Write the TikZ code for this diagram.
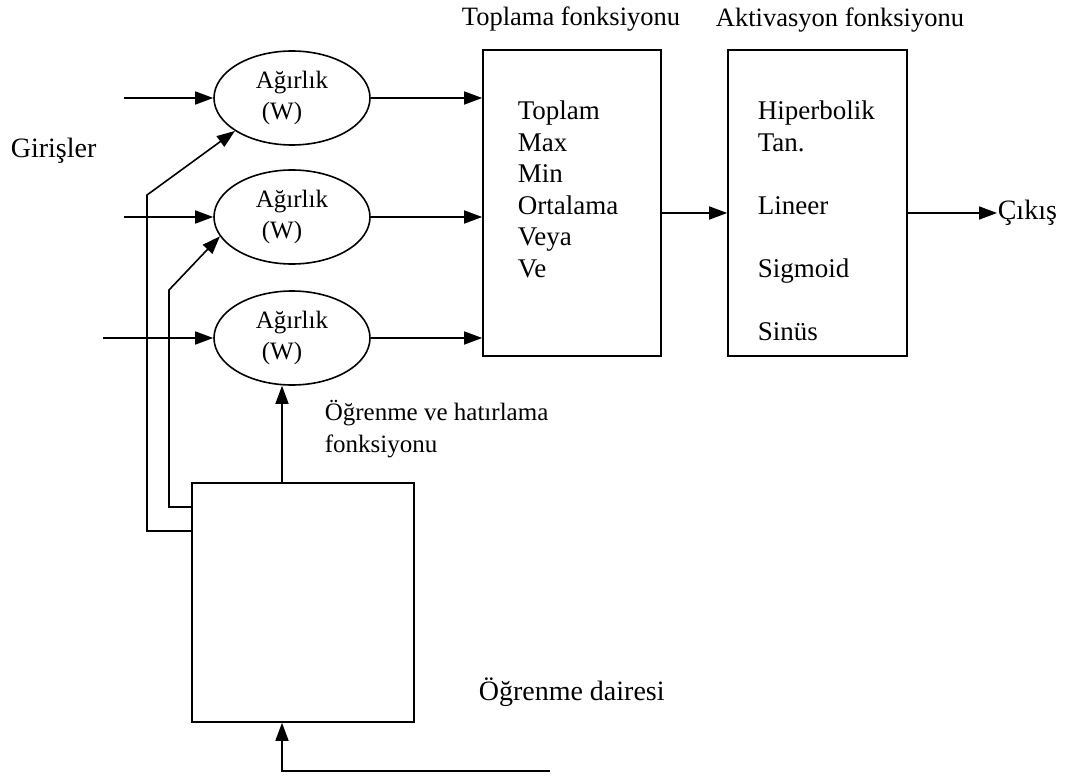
\documentclass[tikz,border=0pt]{standalone}
\usepackage{fontspec}
\setmainfont{Liberation Serif}
\usetikzlibrary{arrows.meta,shapes.geometric,positioning,calc}

\begin{document}
\begin{tikzpicture}[x=1pt, y=-1pt, line width=1.6pt,
  arr/.style={-{Triangle[length=18pt,width=13pt]}},
  weight/.style={draw, ellipse, minimum width=156pt, minimum height=94pt,
    inner sep=0pt, align=left, font=\fontsize{25}{31}\selectfont},
  fnbox/.style={draw, rectangle, minimum height=306pt, inner sep=0pt},
  listtext/.style={anchor=north west, inner sep=0pt, align=left,
    font=\fontsize{27}{31.5}\selectfont},
  title/.style={inner sep=0pt, anchor=base, font=\fontsize{26.5}{31}\selectfont},
  lbl/.style={inner sep=0pt, font=\fontsize{28}{32}\selectfont},
  small/.style={inner sep=0pt, font=\fontsize{25}{32}\selectfont}]
  \useasboundingbox (0,0) rectangle (1065,778);

  % Weights
  \node[weight] (w1) at (292,98)  {Ağırlık\\\hspace*{6pt}(W)};
  \node[weight] (w2) at (292,217) {Ağırlık\\\hspace*{6pt}(W)};
  \node[weight] (w3) at (292,338) {Ağırlık\\\hspace*{6pt}(W)};

  % Summation and activation boxes
  \node[fnbox, minimum width=178pt] (sum) at (572,203) {};
  \node[fnbox, minimum width=179pt] (act) at (817.5,203) {};
  \node[listtext] (sumlist) at (517,100) {Toplam\\Max\\Min\\Ortalama\\Veya\\Ve};
  \node[listtext] (actlist) at (757,100)
    {Hiperbolik\\Tan.\\[31.5pt]Lineer\\[31.5pt]Sigmoid\\[31.5pt]Sinüs};
  \node[title] (sumtitle) at (571,26) {Toplama fonksiyonu};
  \node[title] (acttitle) at (840,27) {Aktivasyon fonksiyonu};

  % Learning box
  \node[draw, minimum width=222pt, minimum height=239pt, inner sep=0pt]
    (learn) at (303,602.5) {};
  \node[small, anchor=north west, align=left] (learnlbl) at (324,399)
    {Öğrenme ve hatırlama\\fonksiyonu};
  \node[lbl, anchor=base west] (circle) at (478,700) {Öğrenme dairesi};

  % Inputs and output
  \node[lbl, anchor=base west] (inputs) at (10,158) {Girişler};
  \node[lbl, anchor=base west] (out) at (997,219) {Çıkış};
  \coordinate (in1) at (124,98);
  \coordinate (in2) at (124,217);
  \coordinate (in3) at (103,338);
  \draw[arr] (in1) -- (w1.west);
  \draw[arr] (in2) -- (w2.west);
  \draw[arr] (in3) -- (w3.west);
  \foreach \w in {w1,w2,w3}
    \draw[arr] (\w.east) -- (\w.east -| sum.west);
  \draw[arr] ([yshift=-10pt]sum.east) -- ([yshift=-10pt]act.west);
  \draw[arr] ([yshift=-10pt]act.east) -- ([yshift=-10pt]act.east -| out.west);

  % Feedback from learning box
  \draw[arr] (learn.west |- 0,531) -- (147,531) -- (147,195) -- (w1.210);
  \draw[arr] (learn.west |- 0,507) -- (169,507) -- (169,290) -- (w2.195);
  \draw[arr] ([xshift=-21pt]learn.north) -- ([xshift=-10pt]w3.south);
  \coordinate (fb) at (550,771);
  \draw[arr] (fb) -| ([xshift=-21pt]learn.south);
\end{tikzpicture}
\end{document}
